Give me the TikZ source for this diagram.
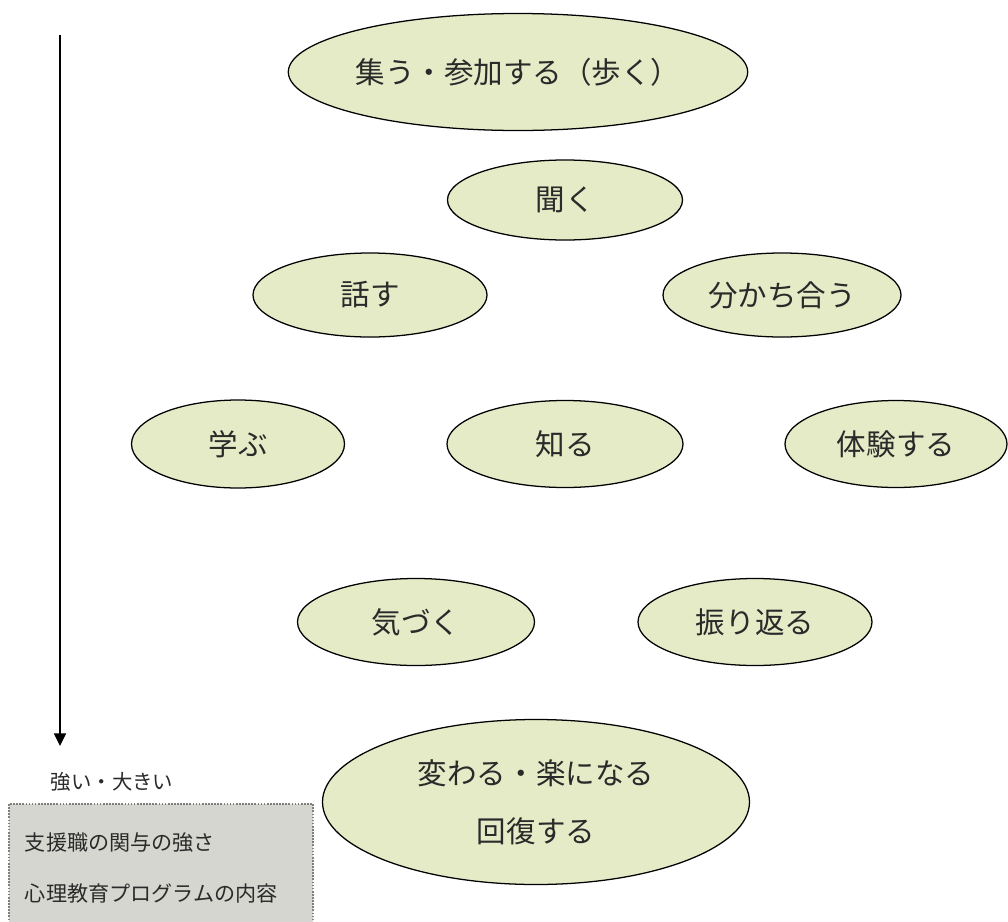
\documentclass[tikz,border=0pt]{standalone}
\usepackage{fontspec}
\setmainfont{Noto Sans CJK JP}
\usetikzlibrary{shapes.geometric,arrows.meta}
\definecolor{ellfill}{HTML}{E5EBC6}
\definecolor{boxfill}{HTML}{D6D6D0}
\definecolor{txt}{HTML}{2A2A2A}
\tikzset{
  oval/.style={ellipse, draw=black, line width=0.9pt, fill=ellfill, inner sep=0pt,
    font=\fontsize{21}{25}\selectfont, text=txt},
  sz/.style 2 args={minimum width=#1*0.025cm, minimum height=#2*0.025cm},
}
\begin{document}
\begin{tikzpicture}[x=0.025cm,y=-0.025cm]
\useasboundingbox (0,0) rectangle (1008,922);
\fill[white] (0,0) rectangle (1008,922);
% ellipses
\node[oval, sz={440}{117}] (e1) at (518,72) {集う・参加する（歩く）};
\node[oval, sz={235}{80}] (e2) at (565,200) {聞く};
\node[oval, sz={234}{84}] (e3) at (370,295) {話す};
\node[oval, sz={238}{84}] (e4) at (782,295) {分かち合う};
\node[oval, sz={213}{88}] (e5) at (238,444) {学ぶ};
\node[oval, sz={236}{87}] (e6) at (565,444) {知る};
\node[oval, sz={222}{87}] (e7) at (896,444) {体験する};
\node[oval, sz={237}{87}] (e8) at (416,622) {気づく};
\node[oval, sz={234}{87}] (e9) at (755,622) {振り返る};
\node[oval, sz={427}{165}, align=center] (e10) at (536,802)
  {変わる・楽になる\\[16pt]回復する};
% arrow
\coordinate (atop) at (60,35);
\coordinate (abot) at (60,746);
\draw[line width=1.2pt, -{Triangle[length=9pt,width=8.5pt]}] (atop) -- (abot);
% legend
\node[anchor=west, font=\fontsize{14.5}{17}\selectfont, text=txt] (lbl) at (46,782) {強い・大きい};
\node[draw=gray, densely dotted, line width=1.2pt, fill=boxfill, sz={304}{125},
  anchor=north west] (box) at (8,803) {};
\node[anchor=west, font=\fontsize{15}{18}\selectfont, text=txt] (b1) at (20,843) {支援職の関与の強さ};
\node[anchor=west, font=\fontsize{15}{18}\selectfont, text=txt] (b2) at (20,893) {心理教育プログラムの内容};
\end{tikzpicture}
\end{document}
